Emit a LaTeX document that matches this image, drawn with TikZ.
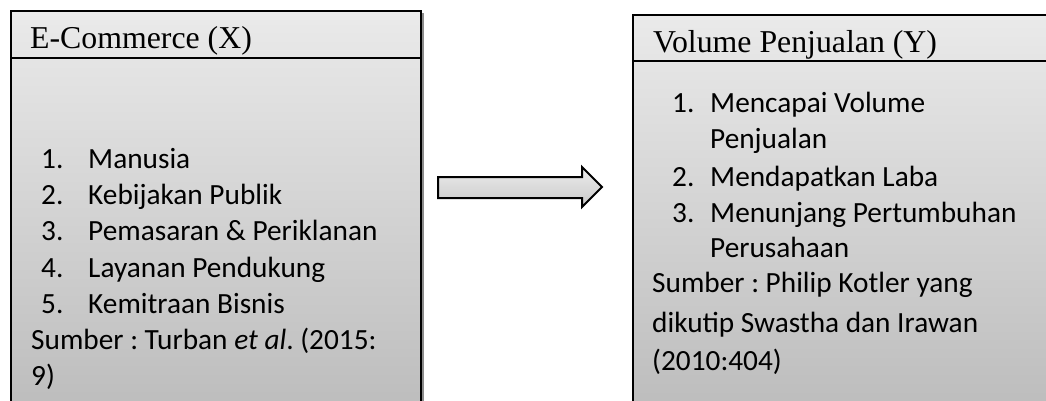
\documentclass[tikz,border=0pt]{standalone}
\usepackage{fontspec}
\setmainfont{Carlito}
\newfontfamily\titlefont{Liberation Serif}
\usetikzlibrary{shadows}
\frenchspacing
\begin{document}
\begin{tikzpicture}[x=1pt,y=-1pt,
  box/.style={draw=black, line width=2pt, rectangle, anchor=north west, inner sep=0pt,
    top color=boxtop, bottom color=boxbot,
    drop shadow={shadow xshift=2.5pt, shadow yshift=-2pt, fill=black!45, opacity=1}},
  ttl/.style={anchor=base west, inner sep=0pt, font=\titlefont\fontsize{31.8}{38}\selectfont},
  txt/.style={anchor=base west, inner sep=0pt, font=\fontsize{29.3}{35}\selectfont},
  divider/.style={line width=2pt}]
\definecolor{boxtop}{HTML}{EAEAEA}
\definecolor{boxbot}{HTML}{BDBDBD}
\definecolor{arrtop}{HTML}{EDEDED}
\definecolor{arrbot}{HTML}{C8C8C8}
\useasboundingbox (0,0) rectangle (1046,401);
% boxes
\node[box, minimum width=410pt, minimum height=394pt] (X) at (10,10) {};
\node[box, minimum width=420pt, minimum height=390pt] (Y) at (632,14) {};
\coordinate (xdl) at (10,58.5);
\coordinate (xdr) at (420,58.5);
\coordinate (ydl) at (632,61);
\coordinate (ydr) at (1052,61);
\draw[divider] (xdl) -- (xdr);
\draw[divider] (ydl) -- (ydr);
% left texts
\node[ttl] (xt) at (30,49) {E-Commerce (X)};
\node[txt] (xn1) at (41,168) {1.};
\node[txt] (xi1) at (88,168) {Manusia};
\node[txt] (xn2) at (41,204) {2.};
\node[txt] (xi2) at (88,204) {Kebijakan Publik};
\node[txt] (xn3) at (41,240.5) {3.};
\node[txt] (xi3) at (88,240.5) {Pemasaran \& Periklanan};
\node[txt] (xn4) at (41,277) {4.};
\node[txt] (xi4) at (88,277) {Layanan Pendukung};
\node[txt] (xn5) at (41,313) {5.};
\node[txt] (xi5) at (88,313) {Kemitraan Bisnis};
\node[txt] (xs1) at (31,349) {Sumber : Turban \textit{et al}. (2015:};
\node[txt] (xs2) at (31,385) {9)};
% right texts
\node[ttl] (yt) at (653,53) {Volume Penjualan (Y)};
\node[txt] (yn1) at (672,113) {1.};
\node[txt] (yi1) at (710,113) {Mencapai Volume};
\node[txt] (yi1b) at (710,149) {Penjualan};
\node[txt] (yn2) at (672,186) {2.};
\node[txt] (yi2) at (710,186) {Mendapatkan Laba};
\node[txt] (yn3) at (672,222) {3.};
\node[txt] (yi3) at (710,222) {Menunjang Pertumbuhan};
\node[txt] (yi3b) at (710,257) {Perusahaan};
\node[txt] (ys1) at (652,292) {Sumber : Philip Kotler yang};
\node[txt] (ys2) at (652,332) {dikutip Swastha dan Irawan};
\node[txt] (ys3) at (652,370) {(2010:404)};
% block arrow
\coordinate (a1) at (438,177);
\coordinate (a2) at (582,177);
\coordinate (a3) at (582,167);
\coordinate (a4) at (602,187);
\coordinate (a5) at (582,207);
\coordinate (a6) at (582,198);
\coordinate (a7) at (438,198);
\fill[black!40, shift={(2,3)}] (a1) -- (a2) -- (a3) -- (a4) -- (a5) -- (a6) -- (a7) -- cycle;
\draw[line width=2pt, line join=miter, top color=arrtop, bottom color=arrbot]
  (a1) -- (a2) -- (a3) -- (a4) -- (a5) -- (a6) -- (a7) -- cycle;
\end{tikzpicture}
\end{document}
